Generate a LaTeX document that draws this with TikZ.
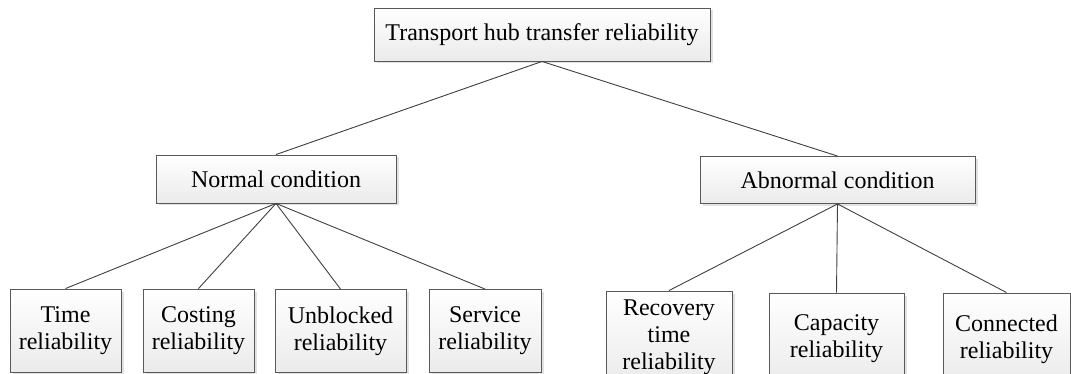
\documentclass[tikz,border=0pt]{standalone}
\usepackage{fontspec}
\setmainfont{Liberation Serif}
\usetikzlibrary{shadows}
\begin{document}
\begin{tikzpicture}[x=1pt,y=-1pt,
  box/.style={draw=black!65, line width=0.9pt, top color=white, bottom color=black!8,
    drop shadow={shadow xshift=2.5pt, shadow yshift=-2.5pt, fill=black!15, opacity=0.8},
    align=center, inner sep=0pt, font=\fontsize{24}{27}\selectfont},
  link/.style={draw=black!75, line width=0.9pt}]
\useasboundingbox (0,0) rectangle (1071,374);
\clip (0,0) rectangle (1071,374);
\node[box, minimum width=336pt, minimum height=53pt] (top) at (542,34.5) {Transport hub transfer reliability};
\node[box, minimum width=240pt, minimum height=48pt] (norm) at (276,179) {Normal condition};
\node[box, minimum width=275pt, minimum height=47pt] (abn) at (837.5,180) {Abnormal condition};
\node[box, minimum width=111pt, minimum height=83pt] (time) at (65.5,330.5) {Time\\reliability};
\node[box, minimum width=111pt, minimum height=83pt] (cost) at (198.5,330.5) {Costing\\reliability};
\node[box, minimum width=131pt, minimum height=83pt] (unbl) at (340.5,331) {Unblocked\\reliability};
\node[box, minimum width=112pt, minimum height=83pt] (serv) at (485,331) {Service\\reliability};
\node[box, minimum width=126pt, minimum height=92pt] (reco) at (669,337) {Recovery\\time\\reliability};
\node[box, minimum width=135pt, minimum height=92pt] (capa) at (836.5,339) {Capacity\\reliability};
\node[box, minimum width=127pt, minimum height=92pt] (conn) at (1006.5,339) {Connected\\reliability};
\draw[link] (top.south) -- (norm.north);
\draw[link] (top.south) -- (abn.north);
\foreach \b in {time,cost,unbl,serv} \draw[link] (norm.south) -- (\b.north);
\foreach \b in {reco,capa,conn} \draw[link] (abn.south) -- (\b.north);
\end{tikzpicture}
\end{document}
